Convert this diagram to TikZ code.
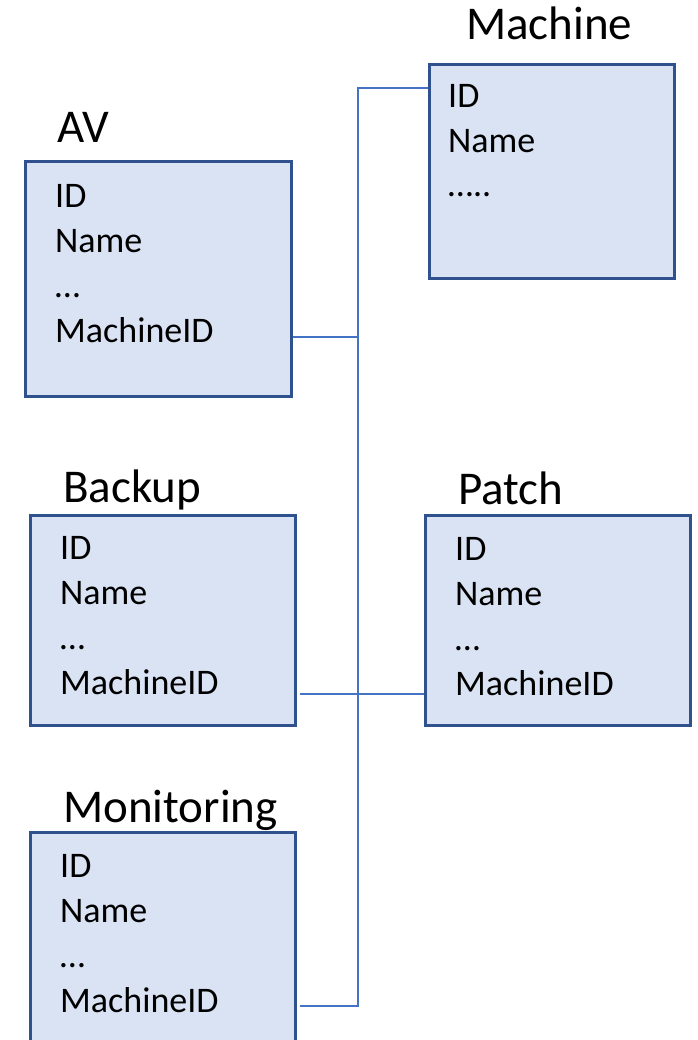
\documentclass[tikz,border=0pt]{standalone}
\usepackage{fontspec}
\setmainfont{Carlito}
\definecolor{boxfill}{HTML}{DAE3F3}
\definecolor{boxline}{HTML}{2F528F}
\definecolor{linkline}{HTML}{4472C4}
\tikzset{
  table/.style={draw=boxline, fill=boxfill, line width=2.6pt, inner sep=0pt, anchor=north west},
  title/.style={anchor=base west, inner sep=0pt, font=\fontsize{47}{56}\selectfont},
  % multi-line node: base anchor sits on the last line
  fields/.style={anchor=base west, inner sep=0pt, align=left, font=\fontsize{36}{44.8}\selectfont},
  link/.style={draw=linkline, line width=1.4pt}
}
\begin{document}
\begin{tikzpicture}[x=1pt,y=-1pt]
\useasboundingbox (0,0) rectangle (697,1040);

% tables
\node[table, minimum width=266pt, minimum height=235pt] (av) at (24,160) {};
\node[table, minimum width=245pt, minimum height=214pt] (machine) at (428,63) {};
\node[table, minimum width=265pt, minimum height=210pt] (backup) at (29,514) {};
\node[table, minimum width=265pt, minimum height=210pt] (patch) at (424,514) {};
\node[table, minimum width=265pt, minimum height=240pt] (monitoring) at (29,831) {};

% table titles
\node[title] (avT) at (57,143) {AV};
\node[title] (machineT) at (466,40) {Machine};
\node[title] (backupT) at (63,502) {Backup};
\node[title] (patchT) at (458,504) {Patch};
\node[title] (monitoringT) at (63,822) {Monitoring};

% table fields
\node[fields] (avF) at (55,342) {ID\\Name\\…\\MachineID};
\node[fields] (machineF) at (448,197) {ID\\Name\\…..};
\node[fields] (backupF) at (60,694) {ID\\Name\\…\\MachineID};
\node[fields] (patchF) at (455,695) {ID\\Name\\…\\MachineID};
\node[fields] (monitoringF) at (60,1012) {ID\\Name\\…\\MachineID};

% bus junctions
\coordinate (busTop) at (358,88);
\coordinate (busAV) at (358,337);
\coordinate (busBP) at (358,694);
\coordinate (busMon) at (358,1006);
\coordinate (bkEnd) at (300,694);
\coordinate (monEnd) at (300,1006);

% connectors
\draw[link] (machine.west |- busTop) -- (busTop) -- (busMon) -- (monEnd);
\draw[link] (av.east |- busAV) -- (busAV);
\draw[link] (bkEnd) -- (patch.west |- busBP);
\end{tikzpicture}
\end{document}
